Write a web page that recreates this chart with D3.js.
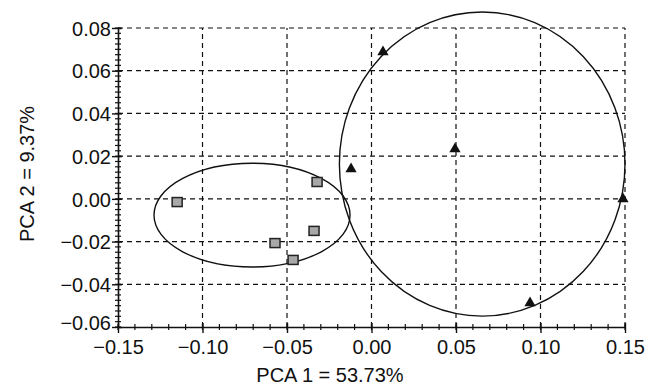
<!DOCTYPE html>
<html lang="en">
<head>
    <meta charset="UTF-8">
    <title>PCA</title>
    <script src="https://d3js.org/d3.v7.min.js"></script>
    <style>
        body { margin: 0; background: #fff; }
        text {
            font-family: 'Liberation Sans', Arial, sans-serif;
            font-size: 20px;
            fill: #111;
        }
    </style>
</head>
<body>
<script>
    const width  = 649;
    const height = 387;

    // group 1 (squares)
    const squareX = [-0.115, -0.0322, -0.034, -0.0571, -0.0464];
    const squareY = [-0.0015, 0.0079, -0.015, -0.0207, -0.0286];
    // group 2 (triangles)
    const triX = [0.0068, 0.0494, -0.0121, 0.1488, 0.0938];
    const triY = [0.0688, 0.0233, 0.014, -0.0001, -0.0488];

    // confidence ellipses: [cx, cy, rx, ry]
    const ellipses = [
        [-0.0707, -0.0076, 0.058, 0.0243],
        [0.0655, 0.0163, 0.0845, 0.0712]
    ];

    const xTicks = [-0.15, -0.10, -0.05, 0.00, 0.05, 0.10, 0.15];
    const yTicks = [-0.06, -0.04, -0.02, 0.00, 0.02, 0.04, 0.06, 0.08];
    const xTitle = "PCA 1 = 53.73%";
    const yTitle = "PCA 2 = 9.37%";

    const x = d3.scaleLinear().domain([-0.15, 0.15]).range([118, 625]);
    const y = d3.scaleLinear().domain([-0.06, 0.08]).range([327, 28]);

    const svg = d3.select("body").append("svg").attr("width", width).attr("height", height);

    // dashed grid
    svg.append("g").selectAll("line").data(xTicks.slice(1)).enter().append("line")
        .attr("x1", d => x(d)).attr("x2", d => x(d))
        .attr("y1", y(-0.06)).attr("y2", y(0.08))
        .attr("stroke", "#111").attr("stroke-width", 1.2).attr("stroke-dasharray", "5,4");
    svg.append("g").selectAll("line").data(yTicks.slice(1)).enter().append("line")
        .attr("x1", x(-0.15)).attr("x2", x(0.15))
        .attr("y1", d => y(d)).attr("y2", d => y(d))
        .attr("stroke", "#111").attr("stroke-width", 1.2).attr("stroke-dasharray", "5,4");

    const fmt = d3.format(".2f");

    // axes
    const gx = svg.append("g").attr("transform", "translate(0," + y(-0.06) + ")")
        .call(d3.axisBottom(x).tickValues(xTicks).tickFormat(fmt).tickSizeInner(5).tickSizeOuter(0).tickPadding(3));
    const gy = svg.append("g").attr("transform", "translate(" + x(-0.15) + ",0)")
        .call(d3.axisLeft(y).tickValues(yTicks).tickFormat(fmt).tickSizeInner(5).tickSizeOuter(0).tickPadding(3));

    [gx, gy].forEach(g => {
        g.select(".domain").attr("stroke", "#111").attr("stroke-width", 1.6);
        g.selectAll(".tick line").attr("stroke", "#111").attr("stroke-width", 1.4);
        g.selectAll("text").attr("font-size", 20).attr("font-family", null).attr("fill", "#111");
    });
    gx.selectAll(".tick line").attr("y1", -4).attr("y2", 6);
    gy.selectAll(".tick line").attr("x1", 4).attr("x2", -6);
    gy.selectAll("text").attr("dy", d => d === -0.06 ? "0.12em" : "0.36em").attr("x", -7);
    gx.selectAll("text").attr("dy", "0.95em");

    // minor ticks
    const xMinor = d3.range(-0.15, 0.1501, 0.01);
    const yMinor = d3.range(-0.06, 0.0801, 0.0025);
    gx.append("g").selectAll("line").data(xMinor).enter().append("line")
        .attr("x1", d => x(d)).attr("x2", d => x(d)).attr("y1", -3).attr("y2", 3)
        .attr("stroke", "#111").attr("stroke-width", 1.2);
    gy.append("g").selectAll("line").data(yMinor).enter().append("line")
        .attr("y1", d => y(d)).attr("y2", d => y(d)).attr("x1", -3).attr("x2", 3)
        .attr("stroke", "#111").attr("stroke-width", 1.2);

    // axis titles
    svg.append("text").text(xTitle)
        .attr("x", 330).attr("y", 382).attr("text-anchor", "middle")
        .attr("font-size", 21);
    svg.append("text").text(yTitle)
        .attr("text-anchor", "middle")
        .attr("font-size", 21)
        .attr("transform", "translate(34," + 174 + ") rotate(-90)");

    // ellipses
    svg.append("g").selectAll("ellipse").data(ellipses).enter().append("ellipse")
        .attr("cx", d => x(d[0])).attr("cy", d => y(d[1]))
        .attr("rx", d => x(d[2]) - x(0)).attr("ry", d => y(0) - y(d[3]))
        .attr("fill", "none").attr("stroke", "#111").attr("stroke-width", 1.4);

    // squares
    svg.append("g").selectAll("rect").data(squareX).enter().append("rect")
        .attr("x", (d, i) => x(d) - 5).attr("y", (d, i) => y(squareY[i]) - 4.5)
        .attr("width", 10).attr("height", 9)
        .attr("fill", "#a8a8a8").attr("stroke", "#222").attr("stroke-width", 1.5);

    // triangles
    const tri = d3.symbol().type(d3.symbolTriangle).size(55);
    svg.append("g").selectAll("path").data(triX).enter().append("path")
        .attr("d", tri)
        .attr("fill", "#111")
        .attr("transform", (d, i) => "translate(" + [x(d), y(triY[i])] + ")");
</script>
</body>
</html>
